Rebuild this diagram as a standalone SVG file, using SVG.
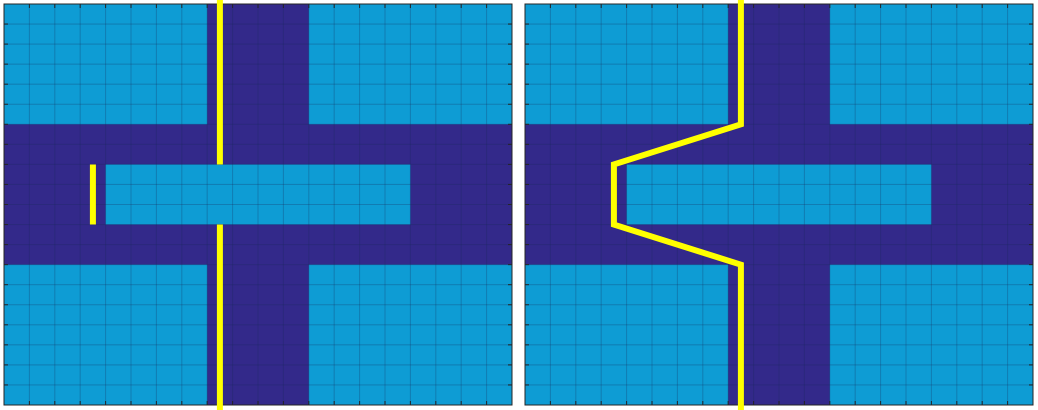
<svg xmlns="http://www.w3.org/2000/svg" xmlns:xlink="http://www.w3.org/1999/xlink" width="1038" height="410" viewBox="0 0 1038 410">
<style>
.light{fill:#0E9CD4}
.dark{fill:#33298A}
.grid{fill:none;stroke:#1A2A5A;stroke-opacity:0.28;stroke-width:1}
.tick{fill:none;stroke:#262626;stroke-width:1}
.box{fill:none;stroke:#262626;stroke-width:1}
.path{fill:none;stroke:#FFFF00;stroke-width:6;stroke-linejoin:miter}
</style>
<defs>
<g id="base">
<rect class="dark" x="4" y="4" width="508" height="401"/>
<rect class="light" x="4" y="4" width="203.2" height="120.3"/>
<rect class="light" x="308.8" y="4" width="203.2" height="120.3"/>
<rect class="light" x="4" y="264.65" width="203.2" height="140.35"/>
<rect class="light" x="308.8" y="264.65" width="203.2" height="140.35"/>
<rect class="light" x="105.6" y="164.4" width="304.8" height="60.15"/>
<path class="grid" d="M29.4 4V405M54.8 4V405M80.2 4V405M105.6 4V405M131 4V405M156.4 4V405M181.8 4V405M207.2 4V405M232.6 4V405M258 4V405M283.4 4V405M308.8 4V405M334.2 4V405M359.6 4V405M385 4V405M410.4 4V405M435.8 4V405M461.2 4V405M486.6 4V405M4 24.05H512M4 44.1H512M4 64.15H512M4 84.2H512M4 104.25H512M4 124.3H512M4 144.35H512M4 164.4H512M4 184.45H512M4 204.5H512M4 224.55H512M4 244.6H512M4 264.65H512M4 284.7H512M4 304.75H512M4 324.8H512M4 344.85H512M4 364.9H512M4 384.95H512"/>
<path class="tick" d="M29.4 4v4M54.8 4v4M80.2 4v4M105.6 4v4M131 4v4M156.4 4v4M181.8 4v4M207.2 4v4M232.6 4v4M258 4v4M283.4 4v4M308.8 4v4M334.2 4v4M359.6 4v4M385 4v4M410.4 4v4M435.8 4v4M461.2 4v4M486.6 4v4M29.4 405v-4M54.8 405v-4M80.2 405v-4M105.6 405v-4M131 405v-4M156.4 405v-4M181.8 405v-4M207.2 405v-4M232.6 405v-4M258 405v-4M283.4 405v-4M308.8 405v-4M334.2 405v-4M359.6 405v-4M385 405v-4M410.4 405v-4M435.8 405v-4M461.2 405v-4M486.6 405v-4M4 24.05h4M4 44.1h4M4 64.15h4M4 84.2h4M4 104.25h4M4 124.3h4M4 144.35h4M4 164.4h4M4 184.45h4M4 204.5h4M4 224.55h4M4 244.6h4M4 264.65h4M4 284.7h4M4 304.75h4M4 324.8h4M4 344.85h4M4 364.9h4M4 384.95h4M512 24.05h-4M512 44.1h-4M512 64.15h-4M512 84.2h-4M512 104.25h-4M512 124.3h-4M512 144.35h-4M512 164.4h-4M512 184.45h-4M512 204.5h-4M512 224.55h-4M512 244.6h-4M512 264.65h-4M512 284.7h-4M512 304.75h-4M512 324.8h-4M512 344.85h-4M512 364.9h-4M512 384.95h-4"/>
<rect class="box" x="4" y="4" width="508" height="401"/>
</g>
</defs>
<rect x="0" y="0" width="1038" height="410" fill="#FFFFFF"/>
<g id="panel-left">
<use xlink:href="#base" href="#base"/>
<path class="path" d="M219.9 0V164.4M219.9 224.55V410M92.9 164.4V224.55"/>
</g>
<g id="panel-right" transform="translate(521 0)">
<use xlink:href="#base" href="#base"/>
<path class="path" d="M219.9 0V124.3L92.9 164.4V224.55L219.9 264.65V410"/>
</g>
</svg>
